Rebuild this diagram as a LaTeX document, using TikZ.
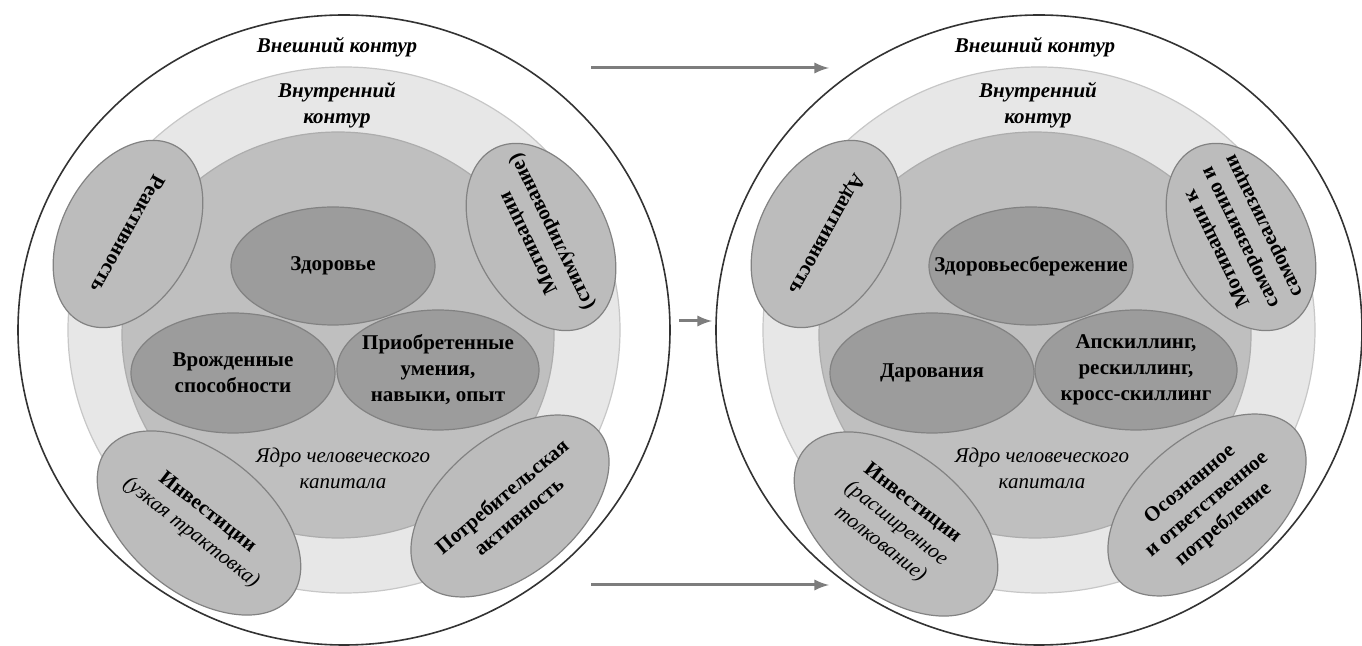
\documentclass[tikz,border=0pt]{standalone}
\usepackage{fontspec}
\setmainfont{Liberation Serif}
\usepackage{color}
\definecolor{ringgray}{RGB}{231,231,231}
\definecolor{coregray}{RGB}{191,191,191}
\definecolor{bubblegray}{RGB}{188,188,188}
\definecolor{kerngray}{RGB}{156,156,156}
\definecolor{edgegray}{RGB}{130,130,130}
\definecolor{arrowgray}{RGB}{125,125,125}

\begin{document}
\begin{tikzpicture}[%
      x=0.5pt, y=-0.5pt,
      outerdisc/.style={fill=white, draw=black!80, line width=0.8pt},
      ringdisc/.style={fill=ringgray, draw=black!22, line width=0.6pt},
      coredisc/.style={fill=coregray, draw=black!32, line width=0.6pt},
      bubble/.style={fill=bubblegray, draw=edgegray, line width=0.6pt},
      kernel/.style={fill=kerngray, draw=edgegray, line width=0.6pt},
      contourtext/.style={font=\fontsize{10.5}{13}\selectfont\bfseries\itshape, align=center},
      coretext/.style={font=\fontsize{10.5}{13}\selectfont\itshape, align=center},
      itemtext/.style={font=\fontsize{10.5}{13}\selectfont\bfseries, align=center, inner sep=0pt},
      flow/.style={color=arrowgray, line width=1.5pt, -latex},
      ]
      \useasboundingbox (0,0) rectangle (1362,646);

      % left: today
      \filldraw [outerdisc] (344,330) ellipse (326 and 315);
      \filldraw [ringdisc] (344,330) ellipse (276 and 263);
      \filldraw [coredisc] (338,335) ellipse (216 and 203);

      \filldraw [bubble, rotate around={-118:(128,234)}] (128,234) ellipse (100 and 66);
      \filldraw [bubble, rotate around={118:(541,237)}] (541,237) ellipse (100 and 66);
      \filldraw [bubble, rotate around={-39:(199,523)}] (199,523) ellipse (118 and 70);
      \filldraw [bubble, rotate around={40:(510,506)}] (510,506) ellipse (116 and 68);

      \filldraw [kernel] (233,373) ellipse (102 and 60);
      \filldraw [kernel] (438,370) ellipse (101 and 60);
      \filldraw [kernel] (333,266) ellipse (102 and 59);

      \node [contourtext] (outerL) at (337,47) {Внешний контур};
      \node [contourtext] (innerL) at (337,105) {Внутренний\\контур};
      \node [coretext] (coreL) at (343,468) {Ядро человеческого\\капитала};

      \node [itemtext, rotate=-119] (react) at (128,234) {Реактивность};
      \node [itemtext, rotate=116] (motiv) at (541,237) {Мотивации\\(стимулирование)};
      \node [itemtext, rotate=-38] (invest) at (199,523) {Инвестиции\\\mdseries\itshape (узкая трактовка)};
      \node [itemtext, rotate=40] (consum) at (510,506) {Потребительская\\активность};

      \node [itemtext] (health) at (333,266) {Здоровье};
      \node [itemtext] (innate) at (233,373) {Врожденные\\способности};
      \node [itemtext] (skills) at (438,370) {Приобретенные\\умения,\\навыки, опыт};

      % right: tomorrow
      \filldraw [outerdisc] (1039,330) ellipse (323 and 315);
      \filldraw [ringdisc] (1039,330) ellipse (276 and 263);
      \filldraw [coredisc] (1035,335) ellipse (216 and 203);

      \filldraw [bubble, rotate around={-118:(826,234)}] (826,234) ellipse (100 and 66);
      \filldraw [bubble, rotate around={118:(1241,237)}] (1241,237) ellipse (100 and 66);
      \filldraw [bubble, rotate around={-39:(896,524)}] (896,524) ellipse (118 and 70);
      \filldraw [bubble, rotate around={40:(1207,505)}] (1207,505) ellipse (116 and 68);

      \filldraw [kernel] (932,373) ellipse (102 and 60);
      \filldraw [kernel] (1136,370) ellipse (101 and 60);
      \filldraw [kernel] (1031,266) ellipse (102 and 59);

      \node [contourtext] (outerR) at (1035,47) {Внешний контур};
      \node [contourtext] (innerR) at (1038,105) {Внутренний\\контур};
      \node [coretext] (coreR) at (1042,468) {Ядро человеческого\\капитала};

      \node [itemtext, rotate=-119] (adapt) at (826,234) {Адаптивность};
      \node [itemtext, rotate=116] (selfdev) at (1241,237) {Мотивации к\\саморазвитию и\\самореализации};
      \node [itemtext, rotate=-38] (investR) at (896,524) {Инвестиции\\\mdseries\itshape (расширенное\\\mdseries\itshape толкование)};
      \node [itemtext, rotate=40] (aware) at (1207,505) {Осознанное\\и ответственное\\потребление};

      \node [itemtext] (healthR) at (1031,266) {Здоровьесбережение};
      \node [itemtext] (talent) at (932,373) {Дарования};
      \node [itemtext] (reskill) at (1136,370) {Апскиллинг,\\рескиллинг,\\кросс-скиллинг};

      \coordinate (topfrom) at (591,68);
      \coordinate (topto) at (829,68);
      \coordinate (midfrom) at (679,321);
      \coordinate (midto) at (712,321);
      \coordinate (lowfrom) at (591,585);
      \coordinate (lowto) at (829,585);
      \draw [flow] (topfrom) -- (topto);
      \draw [flow] (midfrom) -- (midto);
      \draw [flow] (lowfrom) -- (lowto);
      \end{tikzpicture}
\end{document}
